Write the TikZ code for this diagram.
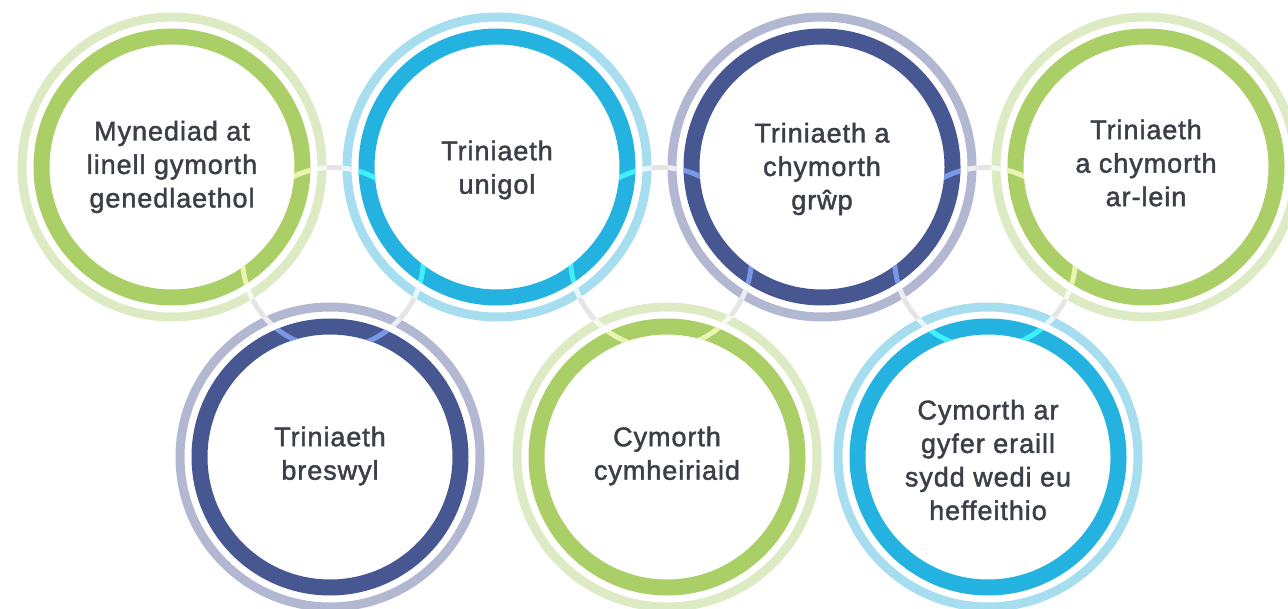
\documentclass[tikz,border=0pt]{standalone}
\usepackage{fontspec}
\setmainfont{Liberation Sans}[LetterSpace=3.5,FakeBold=1.6]
\definecolor{cgreen}{RGB}{171,207,103}
\definecolor{lgreen}{RGB}{221,235,197}
\definecolor{hgreen}{RGB}{233,246,178}
\definecolor{ccyan}{RGB}{36,178,224}
\definecolor{lcyan}{RGB}{166,222,240}
\definecolor{hcyan}{RGB}{64,240,250}
\definecolor{cnavy}{RGB}{70,87,145}
\definecolor{lnavy}{RGB}{178,184,209}
\definecolor{hnavy}{RGB}{122,152,232}
\definecolor{linkgray}{RGB}{229,229,229}
\definecolor{txt}{RGB}{59,63,72}
\newcommand\myhl[4]{%
  \begin{scope}[even odd rule]
    \clip (#1) circle (154.5) (#1) circle (145.5);
    \draw[hlpath, draw=#3] (#2) circle (90.5);
  \end{scope}
  \begin{scope}[even odd rule]
    \clip (#1) circle (138.5) (#1) circle (122.5);
    \draw[hlpath, draw=#4] (#2) circle (90.5);
  \end{scope}}
\begin{document}
\begin{tikzpicture}[x=1pt,y=-1pt,
  linkpath/.style={draw=linkgray,line width=5pt},
  hlpath/.style={line width=5pt},
  ringnode/.style={circle,minimum size=261pt,line width=16pt,inner sep=0pt},
  outerring/.style={line width=9pt},
  disc/.style={fill=white},
  ctext/.style={align=center,text=txt,inner sep=0pt,font=\fontsize{27}{33.5}\selectfont}]
\useasboundingbox (0,0) rectangle (1288,609);
% centres
\coordinate (c1) at (172,167);
\coordinate (c2) at (497,167);
\coordinate (c3) at (822,167);
\coordinate (c4) at (1146,167);
\coordinate (c5) at (330,457);
\coordinate (c6) at (667,457);
\coordinate (c7) at (988,457);
\coordinate (t1) at (333,258);
\coordinate (t2) at (661,258);
\coordinate (t3) at (985,258);
% connector rings
\foreach \t in {t1,t2,t3} \draw[linkpath] (\t) circle (90.5);
\foreach \c in {c1,c2,c3,c4,c5,c6,c7} \fill[disc] (\c) circle (155);
% rings
\draw[outerring,lgreen] (c1) circle (150);
\node[ringnode,draw=cgreen] (n1) at (c1) {};
\draw[outerring,lcyan] (c2) circle (150);
\node[ringnode,draw=ccyan] (n2) at (c2) {};
\draw[outerring,lnavy] (c3) circle (150);
\node[ringnode,draw=cnavy] (n3) at (c3) {};
\draw[outerring,lgreen] (c4) circle (150);
\node[ringnode,draw=cgreen] (n4) at (c4) {};
\draw[outerring,lnavy] (c5) circle (150);
\node[ringnode,draw=cnavy] (n5) at (c5) {};
\draw[outerring,lgreen] (c6) circle (150);
\node[ringnode,draw=cgreen] (n6) at (c6) {};
\draw[outerring,lcyan] (c7) circle (150);
\node[ringnode,draw=ccyan] (n7) at (c7) {};
% highlights where connectors cross rings
\myhl{c1}{t1}{white!75!lgreen}{hgreen}
\myhl{c2}{t1}{white!75!lcyan}{hcyan}
\myhl{c2}{t2}{white!75!lcyan}{hcyan}
\myhl{c3}{t2}{white!75!lnavy}{hnavy}
\myhl{c3}{t3}{white!75!lnavy}{hnavy}
\myhl{c4}{t3}{white!75!lgreen}{hgreen}
\myhl{c5}{t1}{white!75!lnavy}{hnavy}
\myhl{c6}{t2}{white!75!lgreen}{hgreen}
\myhl{c7}{t3}{white!75!lcyan}{hcyan}
% texts
\node[ctext] (l1) at (172,167) {Mynediad at\\linell gymorth\\genedlaethol};
\node[ctext] (l2) at (497,170) {Triniaeth\\unigol};
\node[ctext] (l3) at (822,169) {Triniaeth a\\chymorth\\grŵp};
\node[ctext] (l4) at (1146,163) {Triniaeth\\a chymorth\\ar-lein};
\node[ctext] (l5) at (330,456) {Triniaeth\\breswyl};
\node[ctext] (l6) at (667,456) {Cymorth\\cymheiriaid};
\node[ctext] (l7) at (988,460) {Cymorth ar\\gyfer eraill\\sydd wedi eu\\heffeithio};
\end{tikzpicture}
\end{document}
